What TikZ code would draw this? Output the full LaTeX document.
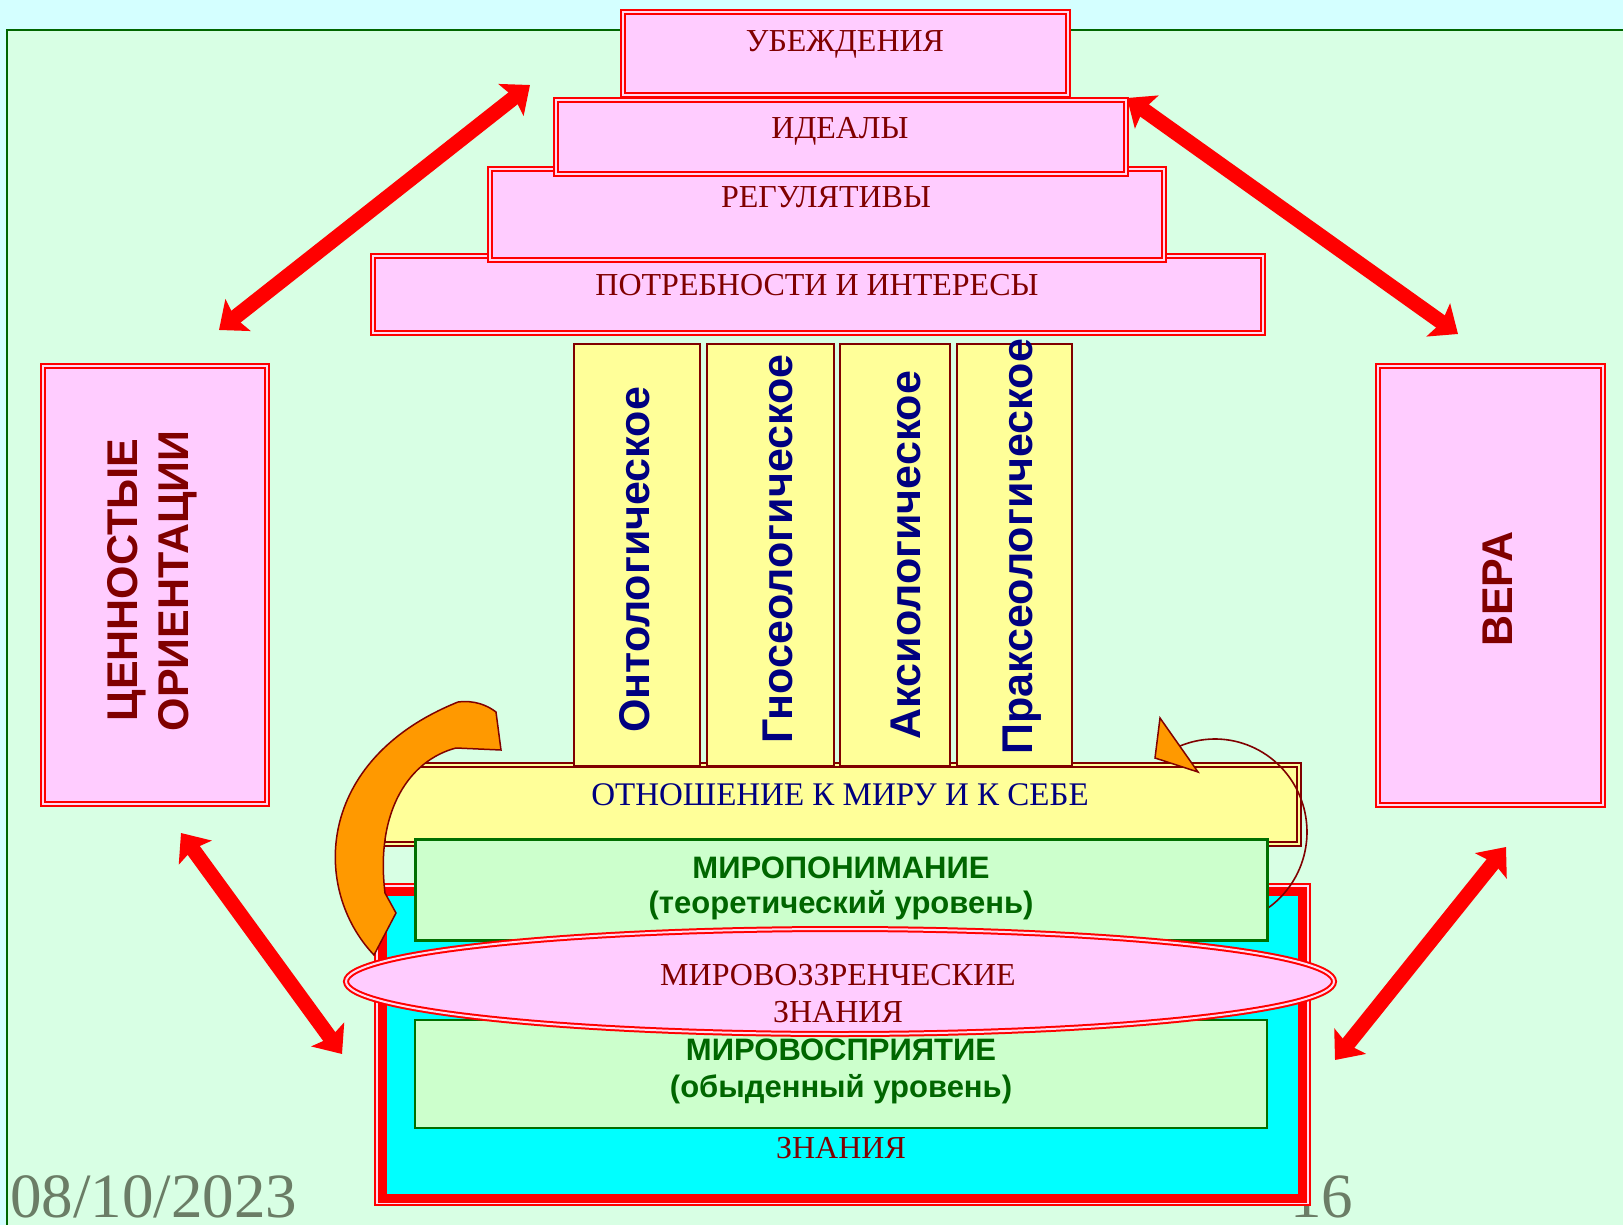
\documentclass[tikz,border=0pt]{standalone}
\usepackage{fontspec}
\setmainfont{Liberation Serif}
\newfontfamily\lsans{Liberation Sans}
\usetikzlibrary{shapes.geometric,arrows.meta}
\definecolor{bgcyan}{RGB}{212,255,255}
\definecolor{bggreen}{RGB}{216,255,228}
\definecolor{framegreen}{RGB}{0,102,0}
\definecolor{pinkfill}{RGB}{255,204,255}
\definecolor{gapcol}{RGB}{255,218,240}
\definecolor{maroon}{RGB}{128,0,0}
\definecolor{navytxt}{RGB}{0,0,128}
\definecolor{paleyellow}{RGB}{255,255,153}
\definecolor{greenfill}{RGB}{204,255,204}
\definecolor{greenline}{RGB}{0,112,0}
\definecolor{greentxt}{RGB}{0,102,0}
\definecolor{orangefill}{RGB}{255,153,0}
\definecolor{datecol}{RGB}{107,125,102}
\definecolor{cyanfill}{RGB}{0,255,255}
\begin{document}
\begin{tikzpicture}[x=1pt,y=-1pt,
  redbox/.style={draw=red, line width=2pt, double=gapcol, double distance=2pt, fill=pinkfill, inner sep=0pt, outer sep=0pt},
  colbox/.style={draw=maroon, line width=2pt, fill=paleyellow, inner sep=0pt, outer sep=0pt},
  greenbox/.style={draw=greenline, fill=greenfill, inner sep=0pt, outer sep=0pt},
  sertxt/.style={font=\fontsize{32}{38}\selectfont, text=maroon, anchor=base, inner sep=0pt},
  coltxt/.style={font=\lsans\bfseries\fontsize{43}{50}\selectfont, text=navytxt, rotate=90, anchor=base, inner sep=0pt},
  sidetxt/.style={font=\lsans\bfseries\fontsize{43}{50}\selectfont, text=maroon, rotate=90, anchor=base, inner sep=0pt},
  greentext/.style={font=\lsans\bfseries\fontsize{31}{37}\selectfont, text=greentxt, anchor=base, inner sep=0pt},
  datetxt/.style={font=\fontsize{63}{70}\selectfont, text=datecol, anchor=base west, inner sep=0pt},
  bigarrow/.style={draw=red, line width=15pt, {Stealth[length=24pt,width=40pt,inset=4pt]}-{Stealth[length=24pt,width=40pt,inset=4pt]}}
]
\useasboundingbox (0,0) rectangle (1623,1225);
\clip (0,0) rectangle (1623,1225);
% background
\fill[bgcyan] (0,0) rectangle (1623,1225);
\draw[framegreen, line width=2pt, fill=bggreen] (7,30) rectangle (1660,1260);

% date and page number
\node[datetxt] (date) at (10,1217) {08/10/2023};
\node[datetxt] (pnum) at (1290,1217) {16};

% side boxes
\node[redbox, minimum width=224pt, minimum height=438pt] (cen) at (155,585) {};
\node[sidetxt] (cen1) at (137,580) {ЦЕННОСТЫЕ};
\node[sidetxt] (cen2) at (188,581) {ОРИЕНТАЦИИ};
\node[redbox, minimum width=225pt, minimum height=439pt] (vera) at (1490.5,585.5) {};
\node[sidetxt] (veratxt) at (1512,589) {ВЕРА};

% pyramid
\node[redbox, minimum width=890pt, minimum height=77pt] (potr) at (818,294.5) {};
\node[sertxt] (potrtxt) at (817,295) {ПОТРЕБНОСТИ И ИНТЕРЕСЫ};
\node[redbox, minimum width=674pt, minimum height=91pt] (regul) at (827,214.5) {};
\node[sertxt] (regultxt) at (826,208) {РЕГУЛЯТИВЫ};
\node[redbox, minimum width=570pt, minimum height=74pt] (ideal) at (841,137) {};
\node[sertxt] (idealtxt) at (840,139) {ИДЕАЛЫ};
\node[redbox, minimum width=445pt, minimum height=83pt] (ubezh) at (845.5,53.5) {};
\node[sertxt] (ubezhtxt) at (845,52) {УБЕЖДЕНИЯ};

% big red double arrows
\coordinate (a1s) at (219,330);
\coordinate (a1e) at (530,85);
\coordinate (a2s) at (1127,98);
\coordinate (a2e) at (1458,334);
\coordinate (a3s) at (181,833);
\coordinate (a3e) at (342,1054);
\coordinate (a4s) at (1506,847);
\coordinate (a4e) at (1335,1060);
\draw[bigarrow] (a1s) -- (a1e);
\draw[bigarrow] (a2s) -- (a2e);
\draw[bigarrow] (a3s) -- (a3e);
\draw[bigarrow] (a4s) -- (a4e);

% relation box
\node[draw=maroon, line width=2pt, double=paleyellow, double distance=2.5pt, fill=paleyellow, inner sep=0pt,
      minimum width=916pt, minimum height=79pt] (otn) at (841,804.5) {};
\node[sertxt, text=navytxt, font=\fontsize{33}{39}\selectfont] (otntxt) at (840,805) {ОТНОШЕНИЕ К МИРУ И К СЕБЕ};

% columns
\node[colbox, minimum width=126pt, minimum height=422pt] (c1) at (637,555) {};
\node[colbox, minimum width=127pt, minimum height=422pt] (c2) at (770.5,555) {};
\node[colbox, minimum width=110pt, minimum height=422pt] (c3) at (895,555) {};
\node[colbox, minimum width=115pt, minimum height=422pt] (c4) at (1014.5,555) {};
\node[coltxt] (c1t) at (649,560) {Онтологическое};
\node[coltxt] (c2t) at (792,549) {Гносеологическое};
\node[coltxt] (c3t) at (920,555) {Аксиологическое};
\node[coltxt] (c4t) at (1032,547) {Праксеологическое};

% knowledge box (cyan)
\node[draw=red, line width=2pt, fill=gapcol, inner sep=0pt, minimum width=935pt, minimum height=321pt] (zn) at (842.5,1044.5) {};
\node[draw=red, line width=9pt, fill=cyanfill, inner sep=0pt, minimum width=920pt, minimum height=307pt] (zninner) at (zn.center) {};
\node[sertxt] (zntxt) at (841,1158) {ЗНАНИЯ};

% circular arrow on the right
\draw[maroon, line width=1.6pt] plot[domain=113:-75, samples=70, smooth] ({1215+92*cos(\x)}, {832-93*sin(\x)});
\coordinate (th1) at (1160,718);
\coordinate (th2) at (1155,758);
\coordinate (th3) at (1198,772);
\filldraw[draw=maroon, line width=1.5pt, fill=orangefill, line join=miter] (th1) -- (th2) -- (th3) -- cycle;

% perception box
\node[greenbox, line width=2pt, minimum width=852pt, minimum height=108pt] (vospr) at (841,1074) {};
\node[greentext] (vospr1) at (841,1060) {МИРОВОСПРИЯТИЕ};
\node[greentext] (vospr2) at (841,1097) {(обыденный уровень)};

% understanding box
\node[greenbox, line width=3pt, minimum width=852pt, minimum height=101pt] (ponim) at (841.5,890) {};
\node[greentext] (ponim1) at (841,878) {МИРОПОНИМАНИЕ};
\node[greentext] (ponim2) at (841,913) {(теоретический уровень)};

% orange curved arrow
\filldraw[draw=maroon, line width=1.5pt, fill=orangefill, line join=miter]
  (496,712) -- (501,750) -- (456,748)
  .. controls (410,760) and (375,810) .. (385,893)
  -- (396,913) -- (374,955)
  .. controls (312,890) and (314,760) .. (458,702)
  .. controls (474,700) and (487,705) .. (496,712) -- cycle;

% worldview knowledge ellipse
\node[ellipse, draw=red, line width=2pt, double=gapcol, double distance=2pt, fill=pinkfill, inner sep=0pt,
      minimum width=988pt, minimum height=105pt] (ell) at (840,981.5) {};
\node[sertxt] (ell1) at (838,985) {МИРОВОЗЗРЕНЧЕСКИЕ};
\node[sertxt] (ell2) at (838,1022) {ЗНАНИЯ};
\end{tikzpicture}
\end{document}
